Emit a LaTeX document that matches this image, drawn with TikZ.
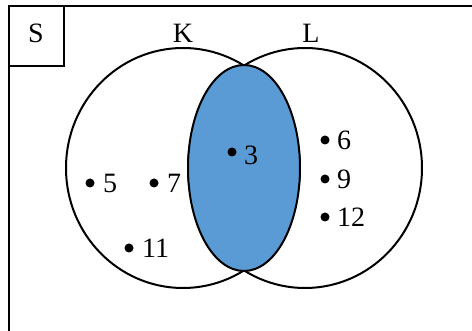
\documentclass[tikz,border=0pt]{standalone}
\usepackage{fontspec}
\setmainfont{Liberation Serif}
\usetikzlibrary{shapes.geometric}
\definecolor{vennblue}{RGB}{91,155,213}
\tikzset{
  setline/.style={line width=2pt, draw=black},
  dotmark/.style={circle, fill=black, inner sep=0pt, minimum size=9pt},
  elem/.style={anchor=west, inner sep=0pt, font=\fontsize{28}{30}\selectfont},
  setlabel/.style={anchor=base, inner sep=0pt, font=\fontsize{28}{30}\selectfont}
}
\begin{document}
\begin{tikzpicture}[x=1pt, y=-1pt]
\useasboundingbox (0,0) rectangle (472,331);
\clip (0,0) rectangle (472,331);
\fill[white] (0,0) rectangle (472,331);
% universal set frame (only top and left show)
\draw[line width=2.6pt] (9,6) rectangle (490,350);
\draw[line width=1.2pt] (9,6) rectangle (64,66);
\node[setlabel] (S) at (36,43) {S};
% circles
\node[setline, ellipse, minimum width=234pt, minimum height=240pt, inner sep=0pt] (K) at (183,168) {};
\node[setline, ellipse, minimum width=234pt, minimum height=240pt, inner sep=0pt] (L) at (305,168) {};
% intersection shaded ellipse
\node[setline, fill=vennblue, ellipse, minimum width=112pt, minimum height=206pt, inner sep=0pt] (KL) at (244,168) {};
\node[setlabel] (Klab) at (183,43) {K};
\node[setlabel] (Llab) at (311,43) {L};
% elements
\node[dotmark] (d5) at (90,183) {};
\node[elem] (t5) at (103,183) {5};
\node[dotmark] (d7) at (154,183) {};
\node[elem] (t7) at (167,183) {7};
\node[dotmark] (d11) at (129,248) {};
\node[elem] (t11) at (142,248) {11};
\node[dotmark] (d3) at (232,152) {};
\node[elem] (t3) at (244,155) {3};
\node[dotmark] (d6) at (325,140) {};
\node[elem] (t6) at (337,140) {6};
\node[dotmark] (d9) at (325,179) {};
\node[elem] (t9) at (337,179) {9};
\node[dotmark] (d12) at (325,217) {};
\node[elem] (t12) at (337,217) {12};
\end{tikzpicture}
\end{document}
